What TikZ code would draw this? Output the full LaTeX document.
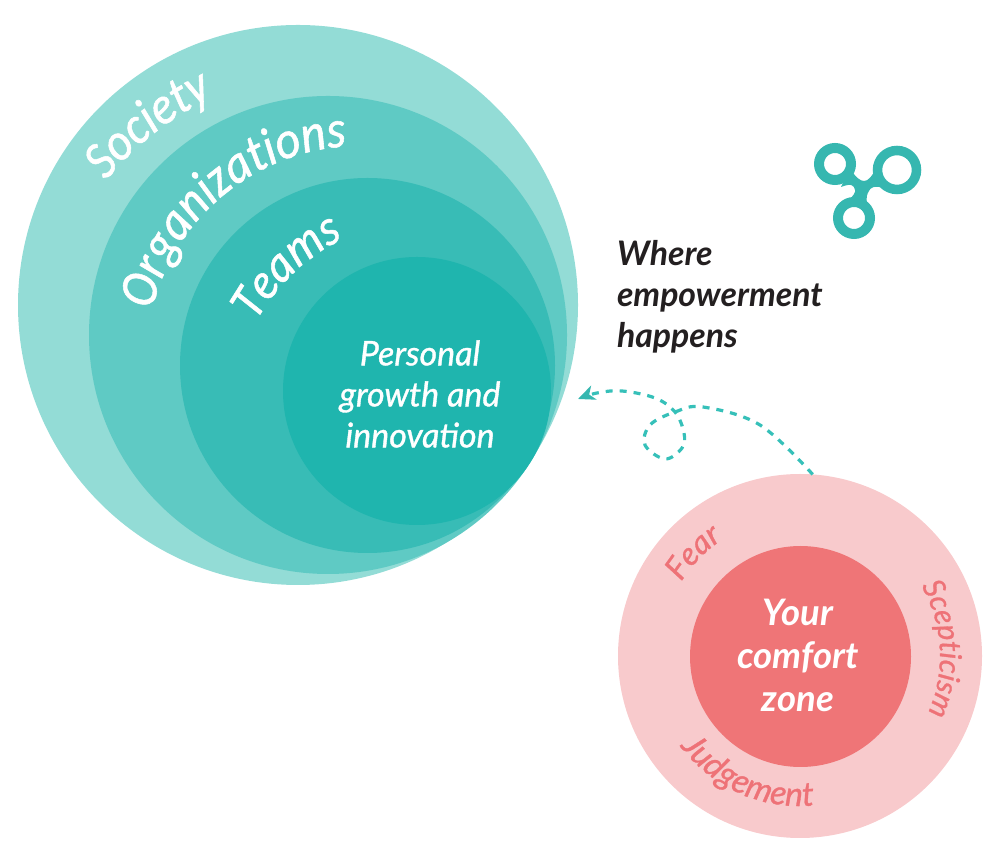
\documentclass[tikz,border=0pt]{standalone}
\usepackage{fontspec}
\setmainfont{Lato}
\newfontface\curvefont{Carlito Italic}[FakeBold=1,FakeStretch=0.9]
\newfontface\medfont{Lato Italic}[FakeBold=1]
\usetikzlibrary{decorations.text,arrows.meta}
\definecolor{socC}{HTML}{93DCD6}
\definecolor{orgC}{HTML}{5FCAC4}
\definecolor{teamC}{HTML}{38BCB6}
\definecolor{persC}{HTML}{1FB5AE}
\definecolor{pinkO}{HTML}{F8CACC}
\definecolor{pinkI}{HTML}{EF7577}
\definecolor{pinkT}{HTML}{EE7277}
\definecolor{darkT}{HTML}{231F20}
\definecolor{iconC}{HTML}{36B7B0}
\definecolor{dashC}{HTML}{36C0B9}
\newcommand{\curveW}[1]{\fontsize{#1}{#1}\curvefont\color{white}}
\newcommand{\curveP}[1]{\fontsize{#1}{#1}\medfont\color{pinkT}}
\tikzset{
  disc/.style={circle,inner sep=0pt,outer sep=0pt,draw=none},
  bodytext/.style={inner sep=0pt,outer sep=0pt,font=\fontsize{33.8}{41}\selectfont\itshape\bfseries},
  curved/.style={decoration={text along path,text align=left,text={#1}},decorate},
  ring/.style={draw=iconC,fill=none},
  dashline/.style={draw=dashC,line width=3.2pt,dash pattern=on 7pt off 7pt,-{Stealth[length=17pt,width=15pt,inset=5pt,color=iconC]}}
}
\begin{document}
\begin{tikzpicture}[x=1pt,y=-1pt,yshift=861pt]
\useasboundingbox (0,0) rectangle (1000,861);
\node[disc,fill=socC,minimum size=560pt] (society) at (298,305) {};
\node[disc,fill=orgC,minimum size=478pt] (org) at (328,335) {};
\node[disc,fill=teamC,minimum size=375pt] (teams) at (367.5,365.5) {};
\node[disc,fill=persC,minimum size=268pt] (personal) at (417,391) {};
\node[disc,fill=pinkO,minimum size=364pt] (comfort) at (800,656) {};
\node[disc,fill=pinkI,minimum size=221pt] (zone) at (800.5,656.5) {};
% curved labels
\path[curved={|\curveW{53}|Society}] (340,370) ++(141:301 and -301) arc[start angle=141,end angle=100,x radius=301,y radius=-301];
\path[curved={|\curveW{53.5}|Organizations}] (360,360) ++(166.5:214 and -214) arc[start angle=166.5,end angle=80,x radius=214,y radius=-214];
\path[curved={|\curveW{51}|Teams}] (431,418.5) ++(151:200 and -200) arc[start angle=151,end angle=100,x radius=200,y radius=-200];
\path[curved={|\curveP{32}|Fear}] (800,656) ++(148:140 and -140) arc[start angle=148,end angle=100,x radius=140,y radius=-140];
\path[curved={|\curveP{30}|Scepticism}] (800,656) ++(30:140 and -140) arc[start angle=30,end angle=-40,x radius=140,y radius=-140];
\path[curved={|\curveP{33.5}|Judgement}] (800,656) ++(217:150 and -150) arc[start angle=217,end angle=300,x radius=150,y radius=-150];
% centred labels
\node[bodytext,text=white,align=center,font=\fontsize{34}{41}\medfont] (persT) at (420,394) {Personal\\growth and\\innovation};
\node[bodytext,text=white,align=center,font=\fontsize{36.5}{43}\selectfont\itshape\bfseries] (zoneT) at (798,655) {Your\\comfort\\zone};
\node[bodytext,text=darkT,align=left,anchor=west] (whereT) at (617,297) {Where\\empowerment\\happens};
% icon
\coordinate (ia) at (835,164);
\coordinate (ib) at (897,170);
\coordinate (ic) at (854,218);
\fill[iconC] (850,168) .. controls (855,177) and (860,181) .. (864,181) .. controls (868,181) and (872,177) .. (877,166)
  -- (884,188) .. controls (874,185) and (870,188) .. (869,191) .. controls (867,194) and (866,197) .. (867,204)
  -- (849,200) .. controls (853,196) and (856,192) .. (855,190) .. controls (854,185) and (851,183) .. (841,187) -- cycle;
\node[disc,ring,line width=10pt,minimum size=32pt] (ringa) at (ia) {};
\node[disc,ring,line width=9.5pt,minimum size=39pt] (ringb) at (ib) {};
\node[disc,ring,line width=10pt,minimum size=32pt] (ringc) at (ic) {};
% connector
\coordinate (p1) at (760,425);
\coordinate (p2) at (703,407);
\coordinate (p3) at (675,412);
\coordinate (p4) at (650,425);
\coordinate (p5) at (645,445);
\coordinate (p6) at (665,459);
\coordinate (p7) at (682,448);
\coordinate (p8) at (684,433);
\coordinate (p9) at (675,412);
\coordinate (p10) at (655,398);
\coordinate (p11) at (622,391);
\coordinate (p12) at (597,393);
\coordinate (tip) at (578,399);
\draw[dashline] plot[smooth,tension=0.6] coordinates {(comfort.86) (p1) (p2) (p3) (p4) (p5) (p6) (p7) (p8) (p9) (p10) (p11) (p12) (tip)};
\end{tikzpicture}
\end{document}
